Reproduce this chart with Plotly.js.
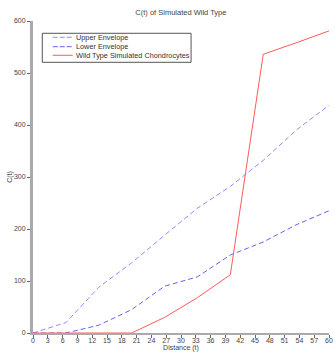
<!DOCTYPE html>
<html>
<head>
<meta charset="utf-8">
<script src="https://cdn.plot.ly/plotly-3.0.1.min.js"></script>
<style>html,body{margin:0;padding:0;background:#fff;}#chart{width:335px;height:352px;}</style>
</head>
<body>
<div id="chart"></div>
<script>
const distance = [0, 6.67, 13.33, 20, 26.67, 33.33, 40, 46.67, 53.33, 60];
const upperEnvelope = [0, 20, 88, 135, 188, 240, 282, 332, 390, 438];
const lowerEnvelope = [0, 0, 15, 45, 90, 108, 150, 175, 208, 235];
const wildType = [0, 0, 0, 0, 30, 68, 112, 536, 558, 581];
const seriesNames = ['Upper Envelope', 'Lower Envelope', 'Wild Type Simulated Chondrocytes'];
const xTicks = [0,3,6,9,12,15,18,21,24,27,30,33,36,39,42,45,48,51,54,57,60];
const yTicks = [0,100,200,300,400,500,600];

const styles = [
  {color: 'rgb(140,140,255)', width: 1, dash: '5px,3px'},
  {color: 'rgb(100,100,235)', width: 1, dash: '5px,3px'},
  {color: 'rgb(255,90,90)', width: 1, dash: 'solid'}
];
const seriesY = [upperEnvelope, lowerEnvelope, wildType];

const traces = seriesY.map((ys, i) => ({
  x: distance, y: ys, name: seriesNames[i], mode: 'lines', line: styles[i]
}));

// hand-built compact legend (paper coordinates)
const legRowsY = [0.9478, 0.9176, 0.8901];
const shapes = [{type: 'rect', xref: 'paper', yref: 'paper', x0: 0.0314, x1: 0.534, y0: 0.8676, y1: 0.9606,
  line: {color: '#555', width: 1}, fillcolor: '#fff', layer: 'above'}];
const annotations = [];
seriesNames.forEach((n, i) => {
  shapes.push({type: 'line', xref: 'paper', yref: 'paper', x0: 0.0666, x1: 0.1341, y0: legRowsY[i], y1: legRowsY[i],
    line: {color: styles[i].color, width: 1, dash: i < 2 ? '5px,2px' : 'solid'}, layer: 'above'});
  annotations.push({xref: 'paper', yref: 'paper', x: 0.1385, y: legRowsY[i], xanchor: 'left', yanchor: 'middle',
    text: n, showarrow: false, font: {size: 7.3, color: '#333'}});
});

const layout = {
  width: 335, height: 352,
  margin: {l: 33, r: 6, t: 21, b: 19, pad: 0},
  paper_bgcolor: '#fff', plot_bgcolor: '#fff',
  font: {family: 'Liberation Sans, Arial, sans-serif', size: 7, color: '#444'},
  title: {text: 'C(t) of Simulated Wild Type', font: {size: 7.5, color: '#444'}, x: 0.54, xanchor: 'center', y: 0.964, yanchor: 'middle'},
  showlegend: false,
  shapes: shapes,
  annotations: annotations,
  xaxis: {range: [0, 60], tickvals: xTicks, ticktext: xTicks.map(String), ticks: 'outside', ticklen: 3,
    tickcolor: '#666', showgrid: false, zeroline: false, showline: true, linecolor: '#aaa', linewidth: 2,
    tickfont: {size: 7, color: '#444'}, automargin: false, ticklabelstandoff: -3,
    title: {text: 'Distance (t)', font: {size: 7, color: '#444'}, standoff: 0}},
  yaxis: {range: [0, 600], tickvals: yTicks, ticktext: yTicks.map(String), ticks: 'outside', ticklen: 3,
    tickcolor: '#666', showgrid: false, zeroline: false, showline: true, linecolor: '#aaa', linewidth: 3,
    tickfont: {size: 7, color: '#444'}, automargin: false,
    title: {text: 'C(t)', font: {size: 7, color: '#444'}, standoff: 0}}
};

Plotly.newPlot('chart', traces, layout, {displayModeBar: false, staticPlot: true});
</script>
</body>
</html>
